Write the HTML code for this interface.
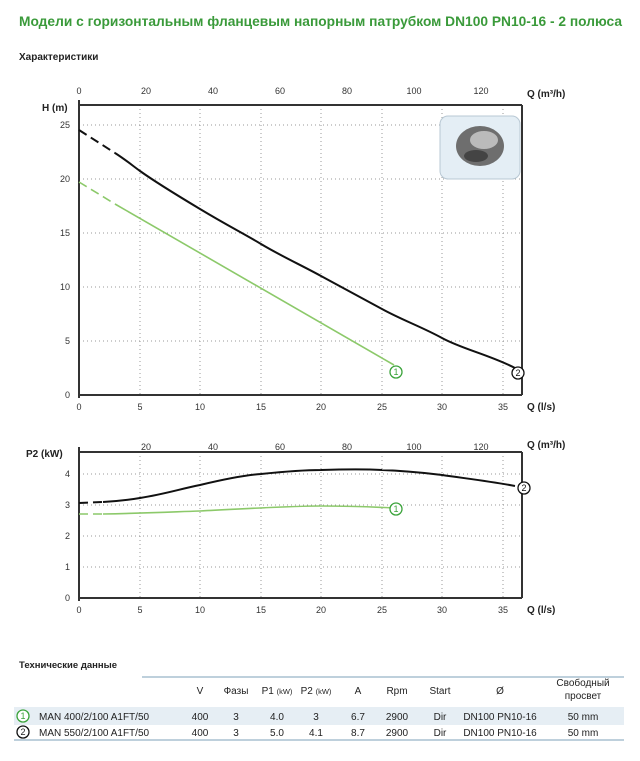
<!DOCTYPE html><html><head><meta charset="utf-8"><style>
body{margin:0;background:#fff;width:640px;height:756px;overflow:hidden;font-family:"Liberation Sans",sans-serif}
</style></head><body>
<svg width="640" height="756" xmlns="http://www.w3.org/2000/svg" font-family="Liberation Sans, sans-serif">
<text x="19" y="26" font-size="14" font-weight="bold" fill="#3a9a3a" textLength="603" lengthAdjust="spacingAndGlyphs">Модели с горизонтальным фланцевым напорным патрубком DN100 PN10-16 - 2 полюса</text>
<text x="19" y="60" font-size="10" font-weight="bold" fill="#222">Характеристики</text>
<g stroke="#999" stroke-dasharray="1,3" stroke-width="1">
<line x1="140" y1="105" x2="140" y2="395"/><line x1="200" y1="105" x2="200" y2="395"/><line x1="261" y1="105" x2="261" y2="395"/><line x1="321" y1="105" x2="321" y2="395"/><line x1="382" y1="105" x2="382" y2="395"/><line x1="442" y1="105" x2="442" y2="395"/><line x1="503" y1="105" x2="503" y2="395"/>
<line x1="79" y1="125" x2="522" y2="125"/><line x1="79" y1="179" x2="522" y2="179"/><line x1="79" y1="233" x2="522" y2="233"/><line x1="79" y1="287" x2="522" y2="287"/><line x1="79" y1="341" x2="522" y2="341"/>
<line x1="140" y1="452" x2="140" y2="598"/><line x1="200" y1="452" x2="200" y2="598"/><line x1="261" y1="452" x2="261" y2="598"/><line x1="321" y1="452" x2="321" y2="598"/><line x1="382" y1="452" x2="382" y2="598"/><line x1="442" y1="452" x2="442" y2="598"/><line x1="503" y1="452" x2="503" y2="598"/>
<line x1="79" y1="474" x2="522" y2="474"/><line x1="79" y1="505" x2="522" y2="505"/><line x1="79" y1="536" x2="522" y2="536"/><line x1="79" y1="567" x2="522" y2="567"/>
</g>
<g stroke="#333" stroke-width="2" fill="none">
<polyline points="79,105 522,105"/><polyline points="79,395 522,395"/><line x1="79" y1="100" x2="79" y2="398"/><line x1="522" y1="105" x2="522" y2="395"/>
<polyline points="79,452 522,452"/><polyline points="79,598 522,598"/><line x1="79" y1="447" x2="79" y2="601"/><line x1="522" y1="452" x2="522" y2="598"/>
</g>
<g font-size="9" fill="#333" text-anchor="middle">
<text x="79" y="94">0</text><text x="146" y="94">20</text><text x="213" y="94">40</text><text x="280" y="94">60</text><text x="347" y="94">80</text><text x="414" y="94">100</text><text x="481" y="94">120</text>
<text x="79" y="410">0</text><text x="140" y="410">5</text><text x="200" y="410">10</text><text x="261" y="410">15</text><text x="321" y="410">20</text><text x="382" y="410">25</text><text x="442" y="410">30</text><text x="503" y="410">35</text>
<text x="146" y="450">20</text><text x="213" y="450">40</text><text x="280" y="450">60</text><text x="347" y="450">80</text><text x="414" y="450">100</text><text x="481" y="450">120</text>
<text x="79" y="613">0</text><text x="140" y="613">5</text><text x="200" y="613">10</text><text x="261" y="613">15</text><text x="321" y="613">20</text><text x="382" y="613">25</text><text x="442" y="613">30</text><text x="503" y="613">35</text>
</g>
<g font-size="9" fill="#333" text-anchor="end">
<text x="70" y="128">25</text><text x="70" y="182">20</text><text x="70" y="236">15</text><text x="70" y="290">10</text><text x="70" y="344">5</text><text x="70" y="398">0</text>
<text x="70" y="477">4</text><text x="70" y="508">3</text><text x="70" y="539">2</text><text x="70" y="570">1</text><text x="70" y="601">0</text>
</g>
<g font-size="10" font-weight="bold" fill="#222">
<text x="42" y="111">H (m)</text><text x="26" y="457">P2 (kW)</text>
<text x="527" y="97">Q (m³/h)</text><text x="527" y="410">Q (l/s)</text>
<text x="527" y="448">Q (m³/h)</text><text x="527" y="613">Q (l/s)</text>
</g>
<g fill="none" stroke-width="2">
<path d="M79,130 L115,153" stroke="#111" stroke-dasharray="9,5"/>
<path d="M115,153 C126,160 133,166 140,171 S170,191 200,209 S241,232 261,244 S301,265 321,276 S362,298 382,309 S422,327 442,338 S490,355 515,368" stroke="#111"/>
<path d="M79,182 L115,204" stroke="#8cc96a" stroke-dasharray="9,5" stroke-width="1.6"/>
<path d="M115,204 L394,365" stroke="#8cc96a" stroke-width="1.6"/>
<path d="M79,503 L103,502" stroke="#111" stroke-dasharray="9,5"/>
<path d="M103,502 C120,501 128,500 140,498 C165,494 180,489 200,485 C225,479 245,475 261,474 C290,471 305,470 321,470 C350,469 365,469 382,470 C410,471 425,473 442,475 C470,479 495,482 515,486" stroke="#111"/>
<path d="M79,514 L103,514" stroke="#8cc96a" stroke-dasharray="9,5" stroke-width="1.6"/>
<path d="M103,514 C150,513 170,512 200,511 C260,508 290,506 321,506 C355,506 375,507 394,508" stroke="#8cc96a" stroke-width="1.6"/>
</g>
<g font-size="9" text-anchor="middle">
<circle cx="396" cy="372" r="6" fill="#fff" stroke="#3aa33a" stroke-width="1.3"/><text x="396" y="375" fill="#3aa33a">1</text>
<circle cx="518" cy="373" r="6" fill="#fff" stroke="#111" stroke-width="1.3"/><text x="518" y="376" fill="#111">2</text>
<circle cx="396" cy="509" r="6" fill="#fff" stroke="#3aa33a" stroke-width="1.3"/><text x="396" y="512" fill="#3aa33a">1</text>
<circle cx="524" cy="488" r="6" fill="#fff" stroke="#111" stroke-width="1.3"/><text x="524" y="491" fill="#111">2</text>
</g>
<rect x="440" y="116" width="80" height="63" rx="8" fill="#e4eef5" stroke="#b8c8d4"/>
<ellipse cx="480" cy="146" rx="24" ry="20" fill="#6e6e6e"/><ellipse cx="484" cy="140" rx="14" ry="9" fill="#bbb"/><ellipse cx="476" cy="156" rx="12" ry="6" fill="#444"/>
<text x="19" y="668" font-size="9.5" font-weight="bold" fill="#222">Технические данные</text>
<line x1="142" y1="677" x2="624" y2="677" stroke="#a8c0d0" stroke-width="1.5"/>
<rect x="14" y="707" width="610" height="18" fill="#e6eef4"/>
<line x1="14" y1="740" x2="624" y2="740" stroke="#a8c0d0" stroke-width="1.5"/>
<g font-size="10" fill="#222" text-anchor="middle">
<text x="200" y="694">V</text><text x="236" y="694">Фазы</text><text x="277" y="694">P1 <tspan font-size="7.5">(kW)</tspan></text><text x="316" y="694">P2 <tspan font-size="7.5">(kW)</tspan></text><text x="358" y="694">A</text><text x="397" y="694">Rpm</text><text x="440" y="694">Start</text><text x="500" y="694">Ø</text><text x="583" y="686">Свободный</text><text x="583" y="699">просвет</text>
<text x="200" y="720">400</text><text x="236" y="720">3</text><text x="277" y="720">4.0</text><text x="316" y="720">3</text><text x="358" y="720">6.7</text><text x="397" y="720">2900</text><text x="440" y="720">Dir</text><text x="500" y="720">DN100 PN10-16</text><text x="583" y="720">50 mm</text>
<text x="200" y="736">400</text><text x="236" y="736">3</text><text x="277" y="736">5.0</text><text x="316" y="736">4.1</text><text x="358" y="736">8.7</text><text x="397" y="736">2900</text><text x="440" y="736">Dir</text><text x="500" y="736">DN100 PN10-16</text><text x="583" y="736">50 mm</text>
<circle cx="23" cy="716" r="6" fill="#fff" stroke="#3aa33a" stroke-width="1.3"/><text x="23" y="719" font-size="9" fill="#3aa33a">1</text>
<circle cx="23" cy="732" r="6" fill="#fff" stroke="#111" stroke-width="1.3"/><text x="23" y="735" font-size="9">2</text>
</g>
<text x="39" y="720" font-size="10" fill="#222">MAN 400/2/100 A1FT/50</text>
<text x="39" y="736" font-size="10" fill="#222">MAN 550/2/100 A1FT/50</text>
</svg>
</body></html>
